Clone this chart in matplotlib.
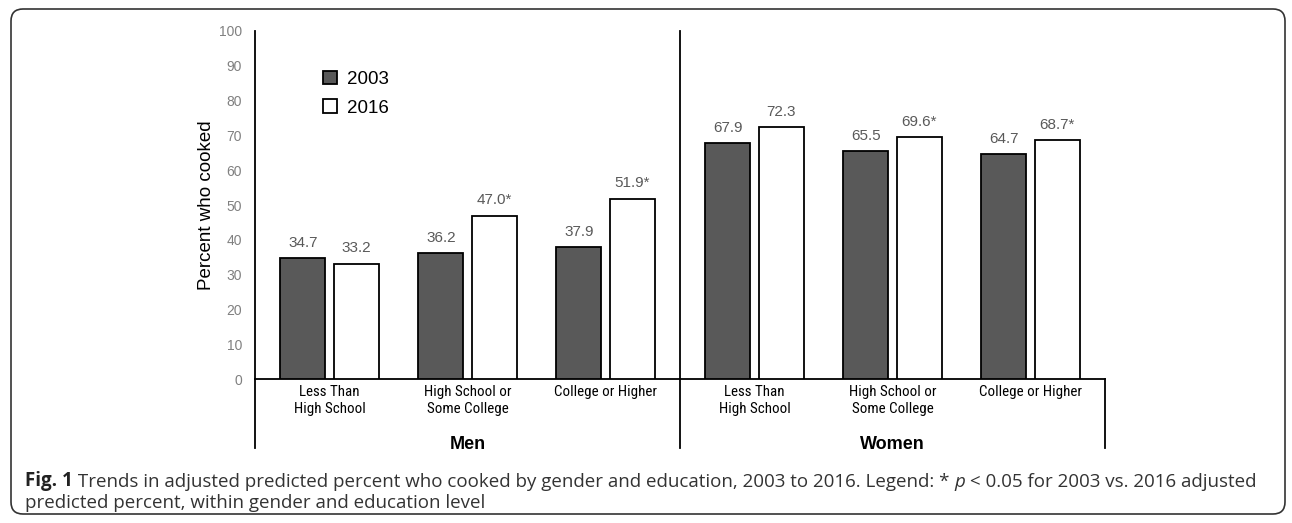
import matplotlib
matplotlib.use("Agg")
import matplotlib.pyplot as plt
import numpy as np
from matplotlib import font_manager
from matplotlib.font_manager import FontProperties
from matplotlib.patches import FancyBboxPatch
from matplotlib.text import Annotation
import matplotlib.transforms as mtransforms

# ---------------- data ----------------
categories = ["Less Than\nHigh School", "High School or\nSome College", "College or Higher"]
groups = ["Men", "Women"]
series_labels = ["2003", "2016"]
men_2003 = [34.7, 36.2, 37.9]
men_2016 = [33.2, 47.0, 51.9]
women_2003 = [67.9, 65.5, 64.7]
women_2016 = [72.3, 69.6, 68.7]
men_sig_2016 = [False, True, True]
women_sig_2016 = [False, True, True]
yticks = list(range(0, 101, 10))
ylabel = "Percent who cooked"
caption_bold = "Fig. 1"
caption_a = " Trends in adjusted predicted percent who cooked by gender and education, 2003 to 2016. Legend: * "
caption_italic = "p"
caption_b = " < 0.05 for 2003 vs. 2016 adjusted"
caption_line2 = "predicted percent, within gender and education level"

# ---------------- fonts ----------------
ttf = font_manager.fontManager.ttflist
available = {f.name for f in ttf}
base_font = "Liberation Sans" if "Liberation Sans" in available else "DejaVu Sans"
cap_font = "Open Sans" if "Open Sans" in available else base_font
plt.rcParams["font.family"] = [base_font, "DejaVu Sans"]


def _is_regular(f):
    w = f.weight
    if isinstance(w, str):
        w = {"normal": 400, "regular": 400, "book": 400}.get(w.lower(), 0)
    return f.style == "normal" and 350 <= int(w) <= 450


def find_narrow():
    prefs = ["Liberation Sans Narrow", "Arial Narrow", "Roboto Condensed",
             "Noto Sans Condensed", "Open Sans Condensed", "Noto Sans SemiCondensed",
             "DejaVu Sans Condensed"]
    for p in prefs:
        for f in ttf:
            if f.name == p and _is_regular(f):
                return f.fname
    for f in ttf:
        if f.stretch in ("condensed", "semi-condensed") and _is_regular(f) \
                and "Sans" in f.name and "Mono" not in f.name and "CJK" not in f.name:
            return f.fname
    return None


narrow_path = find_narrow()
if narrow_path:
    xtick_fp = FontProperties(fname=narrow_path, size=10.8)
else:
    xtick_fp = FontProperties(family=base_font, size=9.3)

W, H = 1292, 523
fig = plt.figure(figsize=(W / 100, H / 100), dpi=100)
fig.patch.set_facecolor("white")

ax = fig.add_axes([255 / W, 1 - 379.3 / H, 850 / W, 348.3 / H])

# layout of category slots (two gender groups with a small gap)
n = len(categories)
group_gap = 0.08
pos_men = np.arange(n, dtype=float)
pos_women = np.arange(n, dtype=float) + n + group_gap
positions = np.concatenate([pos_men, pos_women])
margin = 0.54
xmin, xmax = positions[0] - margin, positions[-1] + margin
divider = (pos_men[-1] + pos_women[0]) / 2

bw = 0.3275
off = 0.1935
dark = "#595959"
vals_2003 = men_2003 + women_2003
vals_2016 = men_2016 + women_2016
sig_2016 = men_sig_2016 + women_sig_2016

b1 = ax.bar(positions - off, vals_2003, width=bw, color=dark, edgecolor="black",
            linewidth=1.3, label=series_labels[0], zorder=3)
b2 = ax.bar(positions + off, vals_2016, width=bw, color="white", edgecolor="black",
            linewidth=1.3, label=series_labels[1], zorder=3)

for x, v in zip(positions - off, vals_2003):
    ax.annotate(f"{v:.1f}", (x, v), xytext=(0, 11), textcoords="offset points",
                ha="center", va="center", fontsize=11, color="#595959")
for x, v, s in zip(positions + off, vals_2016, sig_2016):
    ax.annotate(f"{v:.1f}" + ("*" if s else ""), (x, v), xytext=(0, 11),
                textcoords="offset points", ha="center", va="center",
                fontsize=11, color="#595959")

ax.set_xlim(xmin, xmax)
ax.set_ylim(0, 100)
ax.set_yticks(yticks)
ax.tick_params(axis="y", length=0, pad=9.4, labelsize=10, labelcolor="#808080")
ax.set_xticks(positions)
ax.set_xticklabels(categories * 2)
ax.tick_params(axis="x", length=0, pad=4.3, labelcolor="black")
for lbl in ax.get_xticklabels():
    lbl.set_fontproperties(xtick_fp)
    lbl.set_linespacing(1.25)

for s in ["top", "right"]:
    ax.spines[s].set_visible(False)
ax.spines["left"].set_linewidth(1.3)
ax.spines["bottom"].set_linewidth(1.3)
ax.spines["left"].set_color("black")
ax.spines["bottom"].set_color("black")

trans = mtransforms.blended_transform_factory(ax.transData, ax.transAxes)
low = -0.197
ax.plot([xmin, xmin], [low, 0], transform=trans, color="black", lw=1.3, clip_on=False)
ax.plot([divider, divider], [low, 1.0], transform=trans, color="black", lw=1.3, clip_on=False)
ax.plot([xmax, xmax], [low, 0], transform=trans, color="black", lw=1.3, clip_on=False)

ax.text(pos_men.mean(), -0.1886, groups[0], transform=trans, ha="center", va="center",
        fontsize=13, fontweight="bold", color="black")
ax.text(pos_women.mean(), -0.1886, groups[1], transform=trans, ha="center", va="center",
        fontsize=13, fontweight="bold", color="black")

ax.text(-0.057, 0.5, ylabel, transform=ax.transAxes, rotation=90, ha="center",
        va="center", fontsize=13.5, color="black")

ax.legend(handles=[b1, b2], labels=series_labels, loc="upper left",
          bbox_to_anchor=(0.0796, 0.886), frameon=False, fontsize=13.5,
          handlelength=0.75, handleheight=0.75, handletextpad=0.55,
          labelspacing=0.6, borderaxespad=0, borderpad=0)

# ---------------- caption ----------------
cap_size = 13.5
cap_color = "#333333"
t1 = fig.text(25 / W, 1 - 486 / H, caption_bold, fontfamily=cap_font, fontweight="bold",
              fontsize=cap_size, color="#222222", va="baseline", ha="left")
prev = t1
for txt, style in [(caption_a, "normal"), (caption_italic, "italic"), (caption_b, "normal")]:
    a = Annotation(txt, xy=(1, 0), xycoords=prev, xytext=(0, 0), textcoords="offset points",
                   ha="left", va="bottom", fontfamily=cap_font, fontstyle=style,
                   fontsize=cap_size, color=cap_color, annotation_clip=False)
    fig.add_artist(a)
    prev = a
fig.text(25 / W, 1 - 508 / H, caption_line2, fontfamily=cap_font, fontsize=cap_size,
         color=cap_color, va="baseline", ha="left")

# ---------------- rounded border ----------------
border = FancyBboxPatch((11, H - 514), 1285 - 11, 514 - 9,
                        boxstyle="round,pad=0,rounding_size=12",
                        transform=mtransforms.IdentityTransform(),
                        fill=False, edgecolor="#333333", linewidth=1.2)
fig.add_artist(border)

fig.savefig("out.png", dpi=100, facecolor="white")
